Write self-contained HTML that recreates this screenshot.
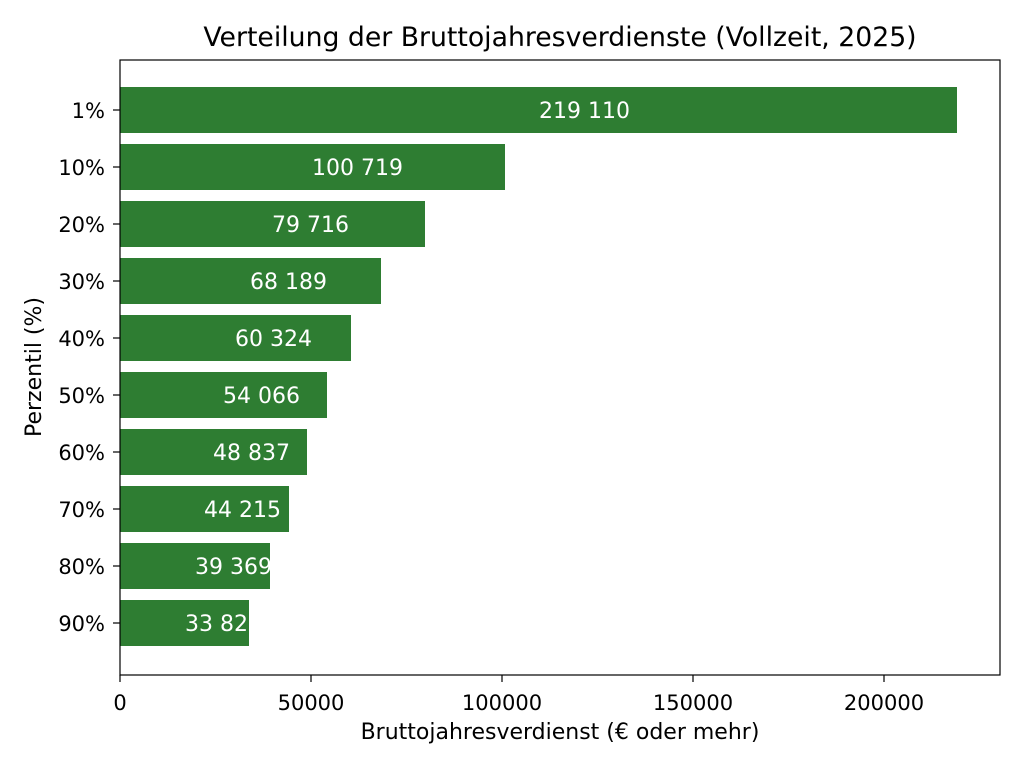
<!DOCTYPE html>
<html><head><meta charset="utf-8"><style>body{margin:0;background:#fff}svg{display:block}text{font-family:"DejaVu Sans","Liberation Sans",sans-serif}</style></head><body>
<svg width="1024" height="768" viewBox="0 0 1024 768" xmlns="http://www.w3.org/2000/svg">
<rect width="1024" height="768" fill="#fff"/>
<text x="560" y="46" font-size="26.7" text-anchor="middle" fill="#000">Verteilung der Bruttojahresverdienste (Vollzeit, 2025)</text>
<g fill="#2e7d32">
<rect x="120" y="87" width="837" height="46"/>
<rect x="120" y="144" width="385" height="46"/>
<rect x="120" y="201" width="305" height="46"/>
<rect x="120" y="258" width="261" height="46"/>
<rect x="120" y="315" width="231" height="46"/>
<rect x="120" y="372" width="207" height="46"/>
<rect x="120" y="429" width="187" height="46"/>
<rect x="120" y="486" width="169" height="46"/>
<rect x="120" y="543" width="150" height="46"/>
<rect x="120" y="600" width="129" height="46"/>
</g>
<g fill="#fff" font-size="22">
<text x="539" y="118">219 110</text>
<text x="312" y="175">100 719</text>
<text x="272" y="232">79 716</text>
<text x="250" y="289">68 189</text>
<text x="235" y="346">60 324</text>
<text x="223" y="403">54 066</text>
<text x="213" y="460">48 837</text>
<text x="204" y="517">44 215</text>
<text x="195" y="574">39 369</text>
<text x="185" y="631">33 827</text>
</g>
<rect x="120" y="60" width="880" height="615" fill="none" stroke="#000" stroke-width="1.2"/>
<g stroke="#000" stroke-width="1.2">
<line x1="120" y1="675" x2="120" y2="682"/><line x1="311" y1="675" x2="311" y2="682"/><line x1="502" y1="675" x2="502" y2="682"/><line x1="693" y1="675" x2="693" y2="682"/><line x1="884" y1="675" x2="884" y2="682"/>
<line x1="113" y1="110" x2="120" y2="110"/><line x1="113" y1="167" x2="120" y2="167"/><line x1="113" y1="224" x2="120" y2="224"/><line x1="113" y1="281" x2="120" y2="281"/><line x1="113" y1="338" x2="120" y2="338"/><line x1="113" y1="395" x2="120" y2="395"/><line x1="113" y1="452" x2="120" y2="452"/><line x1="113" y1="509" x2="120" y2="509"/><line x1="113" y1="566" x2="120" y2="566"/><line x1="113" y1="623" x2="120" y2="623"/>
</g>
<g font-size="21" fill="#000" text-anchor="middle">
<text x="120" y="710">0</text><text x="311" y="710">50000</text><text x="502" y="710">100000</text><text x="693" y="710">150000</text><text x="884" y="710">200000</text>
<text x="560" y="739" font-size="22">Bruttojahresverdienst (€ oder mehr)</text>
<text transform="translate(41,367) rotate(-90)" font-size="22">Perzentil (%)</text>
</g>
<g font-size="21" fill="#000" text-anchor="end">
<text x="105" y="118">1%</text><text x="105" y="175">10%</text><text x="105" y="232">20%</text><text x="105" y="289">30%</text><text x="105" y="346">40%</text><text x="105" y="403">50%</text><text x="105" y="460">60%</text><text x="105" y="517">70%</text><text x="105" y="574">80%</text><text x="105" y="631">90%</text>
</g>
</svg>
</body></html>
